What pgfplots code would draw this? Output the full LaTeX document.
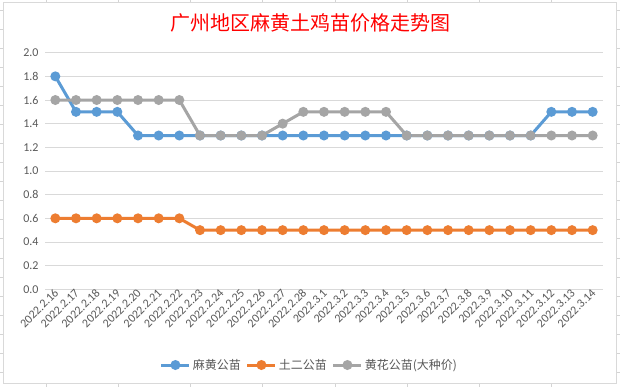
\documentclass[border=0pt]{standalone}
\usepackage{pgfplots}
\pgfplotsset{compat=1.18}
\usepackage{fontspec}
\setmainfont{Carlito}
\newfontfamily\cjk{Noto Sans CJK SC}
\definecolor{sblue}{HTML}{5B9BD5}
\definecolor{sorange}{HTML}{ED7D31}
\definecolor{sgray}{HTML}{A5A5A5}
\definecolor{gridc}{HTML}{D9D9D9}
\definecolor{tickc}{HTML}{595959}
\definecolor{cellc}{HTML}{D4D4D4}
\begin{document}
\begin{tikzpicture}
\useasboundingbox (0pt,0pt) rectangle (620pt,387pt);
\fill[white] (0pt,0pt) rectangle (620pt,387pt);
\foreach \k in {0,...,7} {
  \draw[cellc, line width=0.8pt] ({(46.5+72.1*\k)*1pt},387pt) -- ++(0pt,-3pt);
  \draw[cellc, line width=0.8pt] ({(46.5+72.1*\k)*1pt},0pt) -- ++(0pt,4pt);
}
\foreach \k in {0,...,19} {
  \draw[cellc, line width=0.8pt] (0pt,{(387-10-19.07*\k)*1pt}) -- ++(3pt,0pt);
  \draw[cellc, line width=0.8pt] (620pt,{(387-10-19.07*\k)*1pt}) -- ++(-4pt,0pt);
}
\draw[gridc, line width=0.8pt] (3pt,4pt) rectangle (616pt,385pt);
\node[text=red, font=\cjk\fontsize{20}{24}\selectfont] at (310pt,364pt) {广州地区麻黄土鸡苗价格走势图};
\begin{axis}[
  at={(45pt,97.7pt)}, anchor=south west,
  scale only axis, width=558pt, height=236.6pt,
  xmin=-0.5, xmax=26.5, ymin=0, ymax=2,
  clip=false,
  xtick={0,...,26},
  xticklabels={2022.2.16,2022.2.17,2022.2.18,2022.2.19,2022.2.20,2022.2.21,2022.2.22,2022.2.23,2022.2.24,2022.2.25,2022.2.26,2022.2.27,2022.2.28,2022.3.1,2022.3.2,2022.3.3,2022.3.4,2022.3.5,2022.3.6,2022.3.7,2022.3.8,2022.3.9,2022.3.10,2022.3.11,2022.3.12,2022.3.13,2022.3.14},
  ytick={0,0.2,0.4,0.6,0.8,1.0,1.2,1.4,1.6,1.8,2.0},
  /pgf/number format/fixed, /pgf/number format/fixed zerofill, /pgf/number format/precision=1,
  /pgf/number format/assume math mode=true,
  ymajorgrids, grid style={gridc, line width=0.8pt},
  axis line style={draw=none},
  major tick length=0pt,
  ticklabel style={text=tickc, font=\fontsize{12}{14}\selectfont},
  yticklabel style={xshift=-3pt},
  xticklabel style={rotate=45, anchor=east, xshift=3pt, yshift=-2pt},
  legend columns=3,
  legend cell align=left,
  legend style={draw=none, fill=none, at={(0.474,-0.32)}, anchor=center,
    font=\cjk\fontsize{12}{14}\selectfont, text=tickc,
    /tikz/every even column/.append style={column sep=3pt}},
  legend image code/.code={\draw[mark repeat=2,mark phase=2] plot coordinates {(0pt,0pt) (14pt,0pt) (28pt,0pt)};},
  every axis plot/.append style={line width=3pt, mark=*, mark size=3.4pt},
]
\addplot[sblue, mark options={fill=sblue, draw=sblue}] coordinates {
(0,1.8)(1,1.5)(2,1.5)(3,1.5)(4,1.3)(5,1.3)(6,1.3)(7,1.3)(8,1.3)(9,1.3)(10,1.3)(11,1.3)(12,1.3)(13,1.3)(14,1.3)(15,1.3)(16,1.3)(17,1.3)(18,1.3)(19,1.3)(20,1.3)(21,1.3)(22,1.3)(23,1.3)(24,1.5)(25,1.5)(26,1.5)};
\addlegendentry{麻黄公苗}
\addplot[sorange, mark options={fill=sorange, draw=sorange}] coordinates {
(0,0.6)(1,0.6)(2,0.6)(3,0.6)(4,0.6)(5,0.6)(6,0.6)(7,0.5)(8,0.5)(9,0.5)(10,0.5)(11,0.5)(12,0.5)(13,0.5)(14,0.5)(15,0.5)(16,0.5)(17,0.5)(18,0.5)(19,0.5)(20,0.5)(21,0.5)(22,0.5)(23,0.5)(24,0.5)(25,0.5)(26,0.5)};
\addlegendentry{土二公苗}
\addplot[sgray, mark options={fill=sgray, draw=sgray}] coordinates {
(0,1.6)(1,1.6)(2,1.6)(3,1.6)(4,1.6)(5,1.6)(6,1.6)(7,1.3)(8,1.3)(9,1.3)(10,1.3)(11,1.4)(12,1.5)(13,1.5)(14,1.5)(15,1.5)(16,1.5)(17,1.3)(18,1.3)(19,1.3)(20,1.3)(21,1.3)(22,1.3)(23,1.3)(24,1.3)(25,1.3)(26,1.3)};
\addlegendentry{黄花公苗(大种价)}
\end{axis}
\end{tikzpicture}
\end{document}
